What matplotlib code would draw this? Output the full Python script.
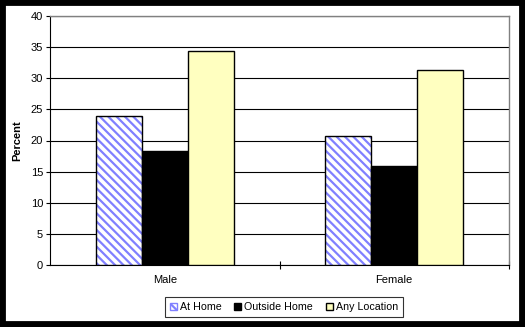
import numpy as np
import matplotlib.pyplot as plt
from matplotlib.patches import Rectangle, Patch

plt.rcParams['font.family'] = ['Liberation Sans', 'DejaVu Sans']
plt.rcParams['hatch.linewidth'] = 1.6

categories = ["Male", "Female"]
series = ["At Home", "Outside Home", "Any Location"]
at_home = [23.9, 20.8]
outside_home = [18.3, 15.9]
any_location = [34.3, 31.4]
yticks = [0, 5, 10, 15, 20, 25, 30, 35, 40]

fig = plt.figure(figsize=(5.25, 3.27), dpi=100)
ax = fig.add_axes([50 / 525, 62 / 327, 459 / 525, 249 / 327])

x = np.arange(len(categories))
w = 0.2
hatch_col = "#8080ff"

# hatched bar: stripes first, black outline on top
ax.bar(x - w, at_home, w, color="white", edgecolor=hatch_col, hatch="\\\\\\\\", linewidth=0, zorder=3)
ax.bar(x - w, at_home, w, fill=False, edgecolor="black", linewidth=1, zorder=4)
ax.bar(x, outside_home, w, color="black", edgecolor="black", linewidth=1, zorder=3)
ax.bar(x + w, any_location, w, color="#ffffc0", edgecolor="black", linewidth=1, zorder=3)

ax.set_xlim(-0.5, 1.5)
ax.set_ylim(0, 40)
ax.set_yticks(yticks)
ax.tick_params(axis="y", labelsize=8, length=3, width=0.8, pad=2)
ax.set_xticks(x)
ax.set_xticklabels(categories)
ax.tick_params(axis="x", length=0, labelsize=8, pad=7)
ax.set_xticks([0.5, 1.5], minor=True)
ax.tick_params(axis="x", which="minor", direction="inout", length=6, width=0.8)

ax.yaxis.grid(True, color="black", linewidth=0.8)
ax.set_axisbelow(True)
for s in ["top", "right"]:
    ax.spines[s].set_color("#808080")
    ax.spines[s].set_linewidth(1)
for s in ["left", "bottom"]:
    ax.spines[s].set_color("black")
    ax.spines[s].set_linewidth(0.8)

ax.set_ylabel("Percent", fontsize=8, fontweight="bold")
ax.yaxis.set_label_coords(-0.061, 0.5)

handles = [
    Patch(facecolor="white", edgecolor=hatch_col, hatch="\\\\\\"),
    Patch(facecolor="black", edgecolor="black"),
    Patch(facecolor="#ffffc0", edgecolor="black"),
]
leg = fig.legend(handles, series, loc="center", bbox_to_anchor=(284 / 525, 1 - 307 / 327),
                 ncol=3, fontsize=7.7, frameon=True, fancybox=False, edgecolor="black",
                 handlelength=0.65, handleheight=0.65, handletextpad=0.3, columnspacing=1.2,
                 borderpad=0.45)
leg.get_frame().set_linewidth(0.8)

fig.patches.append(Rectangle((0, 0), 1, 1, transform=fig.transFigure, fill=False,
                             edgecolor="black", linewidth=8.5))

fig.savefig("out.png", dpi=100)
